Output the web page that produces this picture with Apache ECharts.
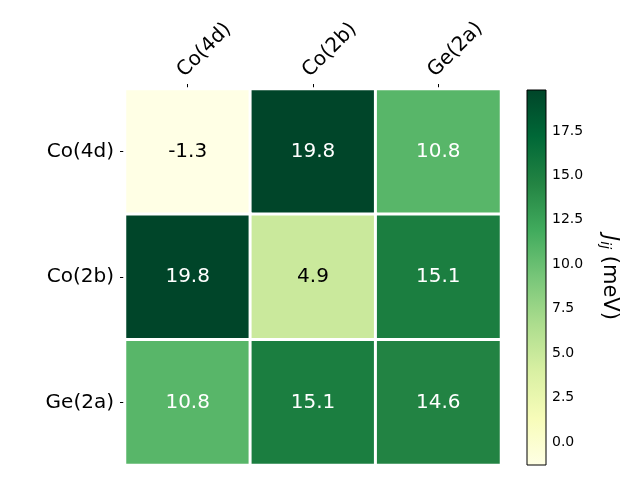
<!DOCTYPE html>
<html><head><meta charset="utf-8">
<script src="https://cdn.jsdelivr.net/npm/echarts@6/dist/echarts.min.js"></script>
<style>html,body{margin:0;padding:0;background:#fff}#c{width:640px;height:480px}</style>
</head><body><div id="c"></div>
<script>
const sites = ['Co(4d)', 'Co(2b)', 'Ge(2a)'];
const rowCo4d = [-1.3, 19.8, 10.8];
const rowCo2b = [19.8, 4.9, 15.1];
const rowGe2a = [10.8, 15.1, 14.6];
const cbTicks = [0, 2.5, 5, 7.5, 10, 12.5, 15, 17.5];
const vMin = -1.3, vMax = 19.8;
const ylgn = ['#ffffe5','#f7fcb9','#d9f0a3','#addd8e','#78c679','#41ab5d','#238443','#006837','#004529'];

const rows = [rowCo4d, rowCo2b, rowGe2a];
const cells = [];
rows.forEach((r, yi) => r.forEach((v, xi) => {
  cells.push({value: [xi, yi, v], label: {color: v > 8 ? '#fff' : '#000'}});
}));
const FONT = 'DejaVu Sans';
const chart = echarts.init(document.getElementById('c'), null, {renderer: 'canvas'});
chart.setOption({
  backgroundColor: '#fff',
  animation: false,
  textStyle: {fontFamily: FONT},
  grid: [
    {left: 125, top: 89, width: 376, height: 376},
    {left: 527, top: 90, width: 19, height: 375}
  ],
  xAxis: [
    {type: 'category', data: sites, position: 'top', gridIndex: 0,
     axisLine: {show: false}, splitLine: {show: false},
     axisTick: {show: true, alignWithLabel: true, length: 5, lineStyle: {color: '#000'}},
     axisLabel: {rotate: -45, align: 'left', verticalAlign: 'bottom', fontSize: 20, color: '#000', margin: 8, fontFamily: FONT}},
    {type: 'value', min: 0, max: 1, gridIndex: 1, show: false}
  ],
  yAxis: [
    {type: 'category', data: sites, inverse: true, gridIndex: 0,
     axisLine: {show: false}, splitLine: {show: false},
     axisTick: {show: true, alignWithLabel: true, length: 5, lineStyle: {color: '#000'}},
     axisLabel: {fontSize: 20, color: '#000', margin: 11, fontFamily: FONT}},
    {type: 'value', min: vMin, max: vMax, gridIndex: 1, position: 'right',
     axisLine: {show: false}, splitLine: {show: false},
     axisTick: {show: true, length: 4, lineStyle: {color: '#000'}, customValues: cbTicks},
     axisLabel: {fontSize: 14, color: '#000', margin: 6, fontFamily: FONT, customValues: cbTicks,
                 formatter: v => v.toFixed(1)},
     name: '{j|J}{s|ij} (meV)', nameLocation: 'middle', nameRotate: -90, nameGap: 52,
     nameTextStyle: {fontSize: 21, color: '#000', fontFamily: FONT,
       rich: {j: {fontSize: 21, fontStyle: 'italic', fontFamily: FONT},
              s: {fontSize: 14, fontStyle: 'italic', fontFamily: FONT, verticalAlign: 'bottom', padding: [8,0,0,0]}}}}
  ],
  visualMap: {show: false, type: 'continuous', min: vMin, max: vMax, seriesIndex: 0, dimension: 2,
              inRange: {color: ylgn}},
  series: [
    {type: 'heatmap', xAxisIndex: 0, yAxisIndex: 0, data: cells,
     itemStyle: {borderColor: '#fff', borderWidth: 3},
     label: {show: true, fontSize: 20, fontFamily: FONT, formatter: p => p.value[2].toFixed(1)}},
    {type: 'custom', xAxisIndex: 1, yAxisIndex: 1, data: [[0, vMin, 1, vMax]],
     renderItem: (params, api) => {
       const p0 = api.coord([api.value(0), api.value(3)]);
       const p1 = api.coord([api.value(2), api.value(1)]);
       return {type: 'rect', shape: {x: p0[0], y: p0[1], width: p1[0]-p0[0], height: p1[1]-p0[1]},
         style: {fill: new echarts.graphic.LinearGradient(0, 1, 0, 0,
           ylgn.map((c, i) => ({offset: i/(ylgn.length-1), color: c}))), stroke: '#000', lineWidth: 1}};
     }}
  ]
});
</script></body></html>
